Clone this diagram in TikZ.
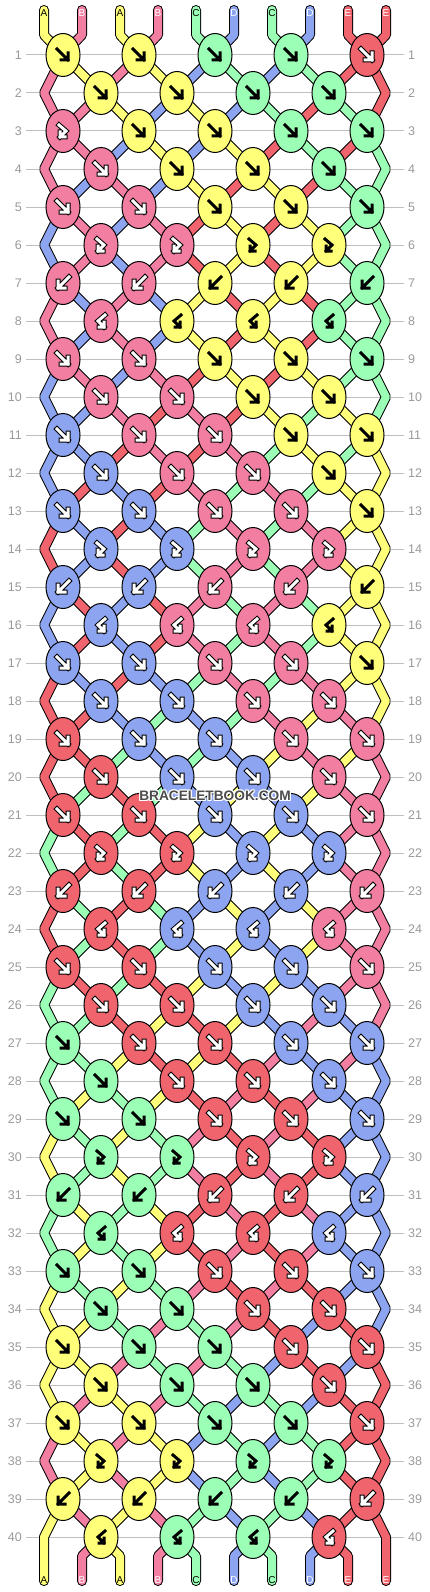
\documentclass[tikz,border=0pt]{standalone}
\usepackage{fontspec}
\setmainfont{Liberation Sans}
\usetikzlibrary{shapes.geometric}
\definecolor{cY}{HTML}{FFFF7A}
\definecolor{cP}{HTML}{F27FA2}
\definecolor{cG}{HTML}{9CFFB6}
\definecolor{cB}{HTML}{8DA5F0}
\definecolor{cR}{HTML}{F0646E}
\colorlet{tY}{black}\colorlet{tP}{white}\colorlet{tG}{black}
\colorlet{tB}{white}\colorlet{tR}{white}
\pgfdeclarelayer{rules}\pgfdeclarelayer{strout}\pgfdeclarelayer{strin}
\pgfsetlayers{rules,strout,strin,main}
% string colour at each position
\def\strc#1{\csname s#1\endcsname}
\def\putstr#1#2{\expandafter\xdef\csname s#1\endcsname{#2}}
\def\keep#1#2{\expandafter\xdef\csname #1\endcsname{#2}}
% one piece of thread: colour, options, path (outline pass or colour pass)
\def\seg#1#2#3{\ifnum\pass=0 \draw[strout,#2] #3;\else\draw[strin,color=c#1,#2] #3;\fi}
% knot symbols
\def\pF{(-6,-6) -- (5,5) (5,-2) -- (5,5) -- (-2,5)}
\def\pB{(6,-6) -- (-5,5) (-5,-2) -- (-5,5) -- (2,5)}
\def\pD{(-4,-6) -- (3,0) -- (-3,6) (-3,1) -- (-3,6) -- (2,6)}
\def\pU{(4,-6) -- (-3,0) -- (3,6) (3,1) -- (3,6) -- (-2,6)}
\def\knotarrow#1#2{%
  \if Y#1\draw[arr,black] #2;\else\if G#1\draw[arr,black] #2;\else
  \draw[arr,line width=5pt,black] #2;\draw[arr,white] #2;\fi\fi}
% all the threads, drawn once per pass
\def\threads{%
  \foreach \r in {2,...,40}{
    \pgfmathtruncatemacro\odd{mod(\r,2)}
    \pgfmathtruncatemacro\rp{\r-1}
    \pgfmathtruncatemacro\rpp{\r-2}
    \ifnum\odd=1 \def\kmax{4}\def\poff{0}\else\def\kmax{3}\def\poff{1}\fi
    \foreach \k in {0,...,\kmax}{
      \pgfmathtruncatemacro\p{2*\k+\poff}
      \pgfmathtruncatemacro\q{\p+1}
      \pgfmathtruncatemacro\kl{\k-\odd}
      \pgfmathtruncatemacro\kr{\k+1-\odd}
      \edef\lc{\csname li\r-\k\endcsname}\edef\rc{\csname ri\r-\k\endcsname}
      \ifnum\p=0
        \seg{\lc}{}{(k\rpp-0.center) -- (bl\rp) -- (k\r-0.center)}
      \else
        \seg{\lc}{}{(k\rp-\kl.center) -- (k\r-\k.center)}
      \fi
      \ifnum\q=9
        \seg{\rc}{}{(k\rpp-4.center) -- (br\rp) -- (k\r-4.center)}
      \else
        \seg{\rc}{}{(k\rp-\kr.center) -- (k\r-\k.center)}
      \fi
    }
  }
  % loose ends at the top
  \foreach \p/\c in {0/Y,1/P,2/Y,3/P,4/G,5/B,6/G,7/B,8/R,9/R}{
    \pgfmathtruncatemacro\k{\p/2}
    \seg{\c}{line cap=round}{(top\p) -- (tb\p) -- (k1-\k.center)}
  }
  % loose ends at the bottom
  \foreach \p in {0,...,9}{
    \pgfmathtruncatemacro\k{(\p-1)/2}
    \edef\c{\strc\p}
    \ifnum\p=0
      \seg{\c}{line cap=round}{(k39-0.center) -- (bl40) -- (bot0)}
    \else\ifnum\p=9
      \seg{\c}{line cap=round}{(k39-4.center) -- (br40) -- (bot9)}
    \else
      \seg{\c}{line cap=round}{(k40-\k.center) -- (bb\p) -- (bot\p)}
    \fi\fi
  }}

\begin{document}
\begin{tikzpicture}[x=1pt,y=-1pt,
  strout/.style={line width=10pt,black,line join=bevel},
  strin/.style={line width=8pt,line join=bevel},
  knot/.style={ellipse,draw,line width=1pt,minimum width=34pt,minimum height=43pt,inner sep=0pt},
  arr/.style={line width=3pt,line cap=rect,line join=miter},
  rule/.style={color=black!25,line width=1pt},
  rownum/.style={text=black!40,inner sep=0pt,font=\fontsize{12.5}{14}\selectfont},
  letter/.style={inner sep=0pt,font=\fontsize{10}{12}\selectfont},
  wmark/.style={inner sep=0pt,font=\fontsize{13.7}{16}\selectfont\bfseries}]
\useasboundingbox (0,0) rectangle (430,1592);

\foreach \p/\c in {0/Y,1/P,2/Y,3/P,4/G,5/B,6/G,7/B,8/R,9/R} {\putstr\p\c}

\begin{pgfonlayer}{rules}
\foreach \r in {1,...,40}{
  \pgfmathsetmacro\y{55+38*(\r-1)}
  \draw[rule] (26,\y) -- (404,\y);
}
\end{pgfonlayer}
\foreach \r in {1,...,40}{
  \pgfmathsetmacro\y{55+38*(\r-1)}
  \node[rownum,anchor=east] (ln\r) at (22,\y) {\r};
  \node[rownum,anchor=west] (rn\r) at (408,\y) {\r};
}

% the knots, row by row
\foreach \r/\rt in {1/f,2/f,3/s,4/f,5/f,6/d,7/b,8/u,9/f,10/f,11/f,12/f,13/f,14/d,15/b,16/u,
  17/f,18/f,19/f,20/f,21/f,22/d,23/b,24/u,25/f,26/f,27/f,28/f,29/f,30/d,31/b,32/u,
  33/f,34/f,35/f,36/f,37/f,38/d,39/b,40/u}{
  \pgfmathsetmacro\y{55+38*(\r-1)}
  \pgfmathtruncatemacro\odd{mod(\r,2)}
  \coordinate (bl\r) at (44,\y);
  \coordinate (br\r) at (386,\y);
  \ifnum\odd=1 \def\kmax{4}\def\poff{0}\else\def\kmax{3}\def\poff{1}\fi
  \foreach \k in {0,...,\kmax}{
    \pgfmathtruncatemacro\p{2*\k+\poff}
    \pgfmathtruncatemacro\q{\p+1}
    \pgfmathsetmacro\x{63+38*\p}
    \edef\lc{\strc\p}\edef\rc{\strc\q}
    \keep{li\r-\k}{\lc}\keep{ri\r-\k}{\rc}
    \edef\kt{\rt}
    \if s\rt \ifnum\k=0 \def\kt{d}\else\def\kt{f}\fi\fi
    \edef\kc{\lc}\def\pth{\pF}
    \if b\kt \edef\kc{\rc}\def\pth{\pB}\fi
    \if u\kt \edef\kc{\rc}\def\pth{\pU}\fi
    \if d\kt \def\pth{\pD}\fi
    \node[knot,fill=c\kc] (k\r-\k) at (\x,\y) {};
    \begin{scope}[shift={(k\r-\k.center)}]
      \knotarrow{\kc}{\pth}
    \end{scope}
    \if f\kt \putstr\p\rc \putstr\q\lc \fi
    \if b\kt \putstr\p\rc \putstr\q\lc \fi
  }
}

% thread ends and their letters
\foreach \p/\n/\c in {0/A/Y,1/B/P,2/A/Y,3/B/P,4/C/G,5/D/B,6/C/G,7/D/B,8/E/R,9/E/R}{
  \pgfmathsetmacro\x{44+38*\p}
  \coordinate (top\p) at (\x,10);
  \coordinate (tb\p) at (\x,35);
  \coordinate (bot\p) at (\x,1581);
  \coordinate (bb\p) at (\x,1556);
  \node[letter,text=t\c] (lt\p) at (\x,13) {\n};
  \node[letter,text=t\c] (lb\p) at (\x,1580) {\n};
}

\begin{pgfonlayer}{strout}\def\pass{0}\threads\end{pgfonlayer}
\begin{pgfonlayer}{strin}\def\pass{1}\threads\end{pgfonlayer}

% watermark
\foreach \dx/\dy [count=\i] in {-1/0,1/0,0/-1,0/1,-1/-1,1/1,1/-1,-1/1}
  \node[wmark,text=white] (wm\i) at (215+\dx,796+\dy) {BRACELETBOOK.COM};
\node[wmark,text=black!70] (wm) at (215,796) {BRACELETBOOK.COM};
\end{tikzpicture}
\end{document}
